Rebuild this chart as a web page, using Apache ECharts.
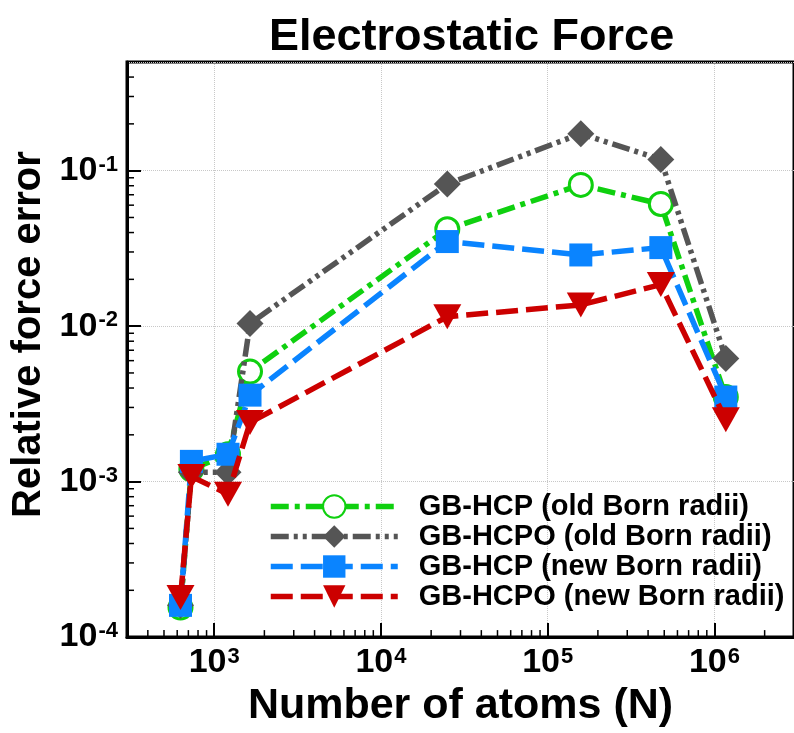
<!DOCTYPE html>
<html><head><meta charset="utf-8">
<script src="https://cdn.jsdelivr.net/npm/echarts@6/dist/echarts.min.js"></script>
<style>html,body{margin:0;padding:0;background:#fff}#c{width:794px;height:733px}</style>
</head><body><div id="c"></div>
<script>
// ---- data ----
const atoms = [628, 730, 1210, 1640, 25000, 158000, 477000, 1170000];
const hcpOld  = [0.000155, 0.0012, 0.0015, 0.0051, 0.042, 0.081, 0.061, 0.0035];
const hcpoOld = [0.00016, 0.00115, 0.00115, 0.0104, 0.082, 0.173, 0.118, 0.0062];
const hcpNew  = [0.00016, 0.00135, 0.0015, 0.0036, 0.035, 0.0287, 0.032, 0.0035];
const hcpoNew = [0.00018, 0.00108, 0.00083, 0.0024, 0.0115, 0.0137, 0.0185, 0.0025];
const seriesNames = ['GB-HCP (old Born radii)', 'GB-HCPO (old Born radii)', 'GB-HCP (new Born radii)', 'GB-HCPO (new Born radii)'];
const xMin = 300, xMax = 3e6, yMin = 1e-4, yMax = 0.5;

const FONT = 'Liberation Sans';
function pairs(ys){ return atoms.map((x,i)=>[x, ys[i]]); }

function minorVals(lo, hi){
  const out = [];
  for (let e = Math.floor(Math.log10(lo)); e <= Math.ceil(Math.log10(hi)); e++) {
    for (let k = 2; k <= 9; k++) { const v = k * Math.pow(10, e); if (v > lo && v < hi) out.push(v); }
  }
  return out;
}
const xMinor = minorVals(xMin, xMax).map(v => [v, yMin]);
const yMinor = minorVals(yMin, yMax).map(v => [xMin, v]);

function logLabel(v){
  const e = Math.log10(v);
  if (Math.abs(e - Math.round(e)) > 1e-6) return '';
  return '{b|10}{s|' + Math.round(e) + '}';
}
const rich = {
  b: {fontFamily: FONT, fontWeight: 'bold', fontSize: 34, color: '#000', lineHeight: 34},
  s: {fontFamily: FONT, fontWeight: 'bold', fontSize: 22, color: '#000', lineHeight: 22, verticalAlign: 'top', padding: [0,0,0,1]}
};

const chart = echarts.init(document.getElementById('c'), null, {renderer: 'canvas'});
const lw = 5.5;
chart.setOption({
  animation: false,
  backgroundColor: '#fff',
  title: {text: 'Electrostatic Force', left: 264, top: 10,
    textStyle: {fontFamily: FONT, fontWeight: 'bold', fontSize: 45, color: '#000'}},
  grid: {left: 127, top: 62, width: 673, height: 590, show: true, borderColor: '#000', borderWidth: 3, backgroundColor: 'transparent'},
  legend: {
    data: seriesNames, orient: 'vertical', left: 263, top: 487, itemWidth: 127, itemHeight: 28, itemGap: 1,
    lineStyle: {width: 5.5},
    textStyle: {fontFamily: FONT, fontWeight: 'bold', fontSize: 29, color: '#000', padding: [0,0,0,16]}
  },
  xAxis: {
    type: 'log', logBase: 10, min: xMin, max: xMax,
    name: 'Number of atoms (N)', nameLocation: 'middle', nameGap: 40,
    nameTextStyle: {fontFamily: FONT, fontWeight: 'bold', fontSize: 43, color: '#000'},
    axisLine: {lineStyle: {color: '#000', width: 3}},
    axisTick: {inside: true, length: 14, lineStyle: {color: '#000', width: 2}},
    axisLabel: {formatter: logLabel, rich: rich, margin: 9, showMinLabel: false, showMaxLabel: false},
    splitLine: {show: true, lineStyle: {color: '#c8c8c8', type: 'dotted', width: 1}}
  },
  yAxis: {
    type: 'log', logBase: 10, min: yMin, max: yMax,
    name: 'Relative force error', nameLocation: 'middle', nameGap: 64, nameRotate: 90,
    nameTextStyle: {fontFamily: FONT, fontWeight: 'bold', fontSize: 40, color: '#000', padding: [0,0,0,30]},
    axisLine: {lineStyle: {color: '#000', width: 3}},
    axisTick: {inside: true, length: 14, lineStyle: {color: '#000', width: 2}},
    axisLabel: {formatter: logLabel, rich: rich, margin: 9, showMaxLabel: false},
    splitLine: {show: true, lineStyle: {color: '#c8c8c8', type: 'dotted', width: 1}}
  },
  series: [
    {type: 'custom', name: 'xminor', silent: true, z: 5, clip: false, data: xMinor,
      renderItem: (params, api) => { const p = api.coord([api.value(0), api.value(1)]);
        return {type: 'line', shape: {x1: p[0], y1: p[1], x2: p[0], y2: p[1] - 7}, style: {stroke: '#000', lineWidth: 1.5}}; }},
    {type: 'custom', name: 'yminor', silent: true, z: 5, clip: false, data: yMinor,
      renderItem: (params, api) => { const p = api.coord([api.value(0), api.value(1)]);
        return {type: 'line', shape: {x1: p[0], y1: p[1], x2: p[0] + 7, y2: p[1]}, style: {stroke: '#000', lineWidth: 1.5}}; }},
    {type: 'line', name: seriesNames[0], data: pairs(hcpOld), z: 10,
      symbol: 'circle', symbolSize: 23, showAllSymbol: true,
      lineStyle: {color: '#0fd00f', width: lw, type: [18, 6, 5, 6]},
      itemStyle: {color: '#fff', borderColor: '#0fd00f', borderWidth: 3}},
    {type: 'line', name: seriesNames[1], data: pairs(hcpoOld), z: 11,
      symbol: 'diamond', symbolSize: 27, showAllSymbol: true,
      lineStyle: {color: '#555555', width: lw, type: [18, 5, 4, 5, 4, 5]},
      itemStyle: {color: '#555555', borderWidth: 0}},
    {type: 'line', name: seriesNames[2], data: pairs(hcpNew), z: 12,
      symbol: 'rect', symbolSize: 23, showAllSymbol: true,
      lineStyle: {color: '#0a84ff', width: lw, type: [22, 8]},
      itemStyle: {color: '#0a84ff', borderWidth: 0}},
    {type: 'line', name: seriesNames[3], data: pairs(hcpoNew), z: 13,
      symbol: 'triangle', symbolRotate: 180, symbolSize: [28, 25], showAllSymbol: true,
      lineStyle: {color: '#cc0000', width: lw, type: [22, 8]},
      itemStyle: {color: '#cc0000', borderWidth: 0}}
  ]
});
</script></body></html>
